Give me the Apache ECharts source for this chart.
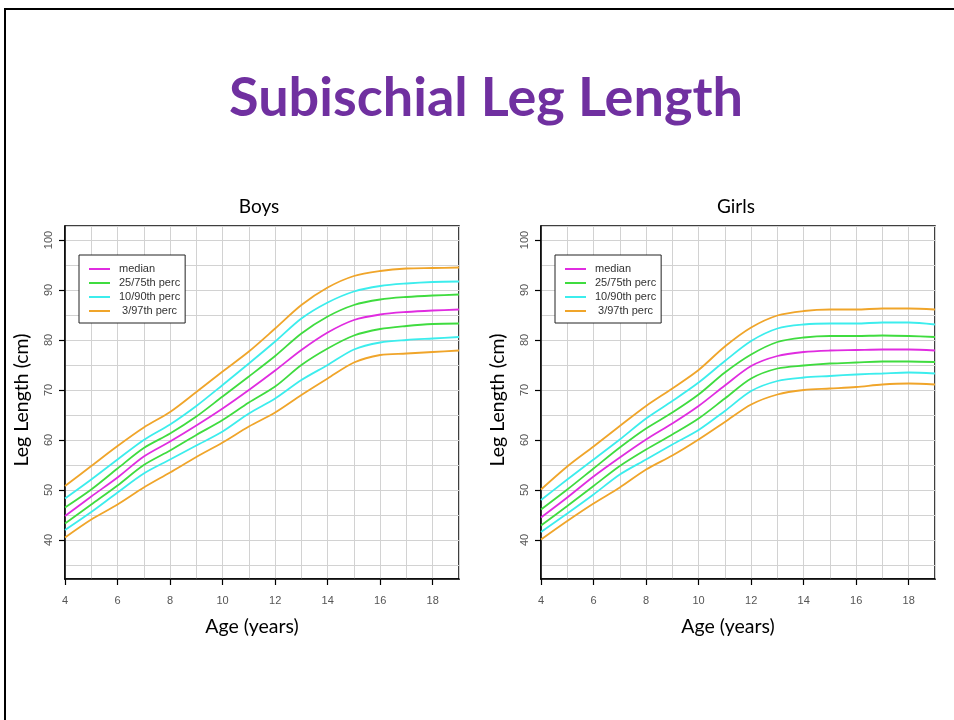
<!DOCTYPE html>
<html>
<head>
<meta charset="utf-8">
<script src="https://cdn.jsdelivr.net/npm/echarts@6/dist/echarts.min.js"></script>
<style>
  html, body { margin: 0; padding: 0; background: #fff; }
  #chart { width: 954px; height: 720px; }
</style>
</head>
<body>
<div id="chart"></div>
<script>
// ---- data ----
const ages = [4, 5, 6, 7, 8, 9, 10, 11, 12, 13, 14, 15, 16, 17, 18, 19];
const xTickLabels = [4, 6, 8, 10, 12, 14, 16, 18];
const yTickLabels = [40, 50, 60, 70, 80, 90, 100];
const legendNames = ['median', '25/75th perc', '10/90th perc', ' 3/97th perc'];

const boysP3  = [40.5, 44.1, 47.1, 50.5, 53.5, 56.6, 59.5, 62.7, 65.5, 69.0, 72.3, 75.5, 77.0, 77.3, 77.6, 77.9];
const boysP10 = [42.0, 45.6, 49.5, 53.3, 56.1, 58.9, 61.7, 65.3, 68.3, 72.0, 75.0, 78.1, 79.5, 80.0, 80.3, 80.6];
const boysP25 = [43.3, 47.1, 50.9, 55.0, 57.9, 61.0, 64.0, 67.5, 70.7, 75.0, 78.3, 80.9, 82.2, 82.8, 83.2, 83.3];
const boysP50 = [44.8, 48.7, 52.5, 56.7, 59.7, 62.9, 66.3, 70.0, 73.9, 78.0, 81.5, 84.0, 85.1, 85.6, 85.9, 86.1];
const boysP75 = [46.5, 50.1, 54.3, 58.4, 61.3, 64.7, 68.7, 72.7, 76.8, 81.3, 84.7, 87.0, 88.1, 88.6, 88.9, 89.1];
const boysP90 = [48.3, 52.1, 56.1, 60.0, 63.1, 66.8, 71.0, 75.3, 79.7, 84.3, 87.5, 89.7, 90.8, 91.3, 91.6, 91.7];
const boysP97 = [50.8, 54.8, 58.8, 62.5, 65.6, 69.6, 73.7, 77.7, 82.3, 87.0, 90.5, 92.8, 93.8, 94.3, 94.4, 94.5];

const girlsP3  = [40.1, 43.8, 47.3, 50.5, 54.1, 56.9, 60.1, 63.6, 67.1, 69.1, 70.0, 70.3, 70.6, 71.1, 71.3, 71.1];
const girlsP10 = [41.6, 45.3, 49.1, 53.1, 56.1, 59.1, 62.0, 65.8, 69.8, 71.8, 72.5, 72.8, 73.1, 73.3, 73.5, 73.3];
const girlsP25 = [42.9, 46.8, 50.8, 54.8, 58.1, 61.1, 64.3, 68.3, 72.3, 74.3, 74.9, 75.3, 75.5, 75.7, 75.7, 75.6];
const girlsP50 = [44.5, 48.5, 52.7, 56.5, 60.1, 63.3, 66.8, 70.9, 74.8, 76.8, 77.6, 77.9, 78.0, 78.1, 78.1, 77.9];
const girlsP75 = [46.1, 50.1, 54.3, 58.5, 62.3, 65.5, 69.1, 73.5, 77.1, 79.6, 80.5, 80.8, 80.8, 80.9, 80.8, 80.6];
const girlsP90 = [48.0, 52.1, 56.1, 60.1, 64.3, 67.8, 71.5, 75.8, 79.8, 82.3, 83.1, 83.3, 83.3, 83.5, 83.5, 83.1];
const girlsP97 = [50.1, 54.7, 58.7, 62.8, 66.8, 70.3, 74.0, 78.7, 82.5, 84.9, 85.8, 86.1, 86.1, 86.3, 86.3, 86.1];

// ---- styling ----
const COLORS = { median: '#E02CE0', q: '#3FDC3F', d: '#3CEDED', p: '#F0A52A' };
const GRID_COLOR = '#d2d2d2';
const LABEL_FONT = 'Liberation Sans, Arial, sans-serif';
const TEXT_FONT = 'Lato, "Open Sans", sans-serif';

const plots = [
  { left: 65,  data: [boysP3, boysP10, boysP25, boysP50, boysP75, boysP90, boysP97] },
  { left: 541, data: [girlsP3, girlsP10, girlsP25, girlsP50, girlsP75, girlsP90, girlsP97] }
];
const PLOT_TOP = 226, PLOT_W = 394, PLOT_H = 353;
const Y_MIN = 32.2, Y_MAX = 102.8;

const grid = [], xAxis = [], yAxis = [], series = [], legend = [];
plots.forEach((p, gi) => {
  grid.push({ left: p.left, top: PLOT_TOP, width: PLOT_W, height: PLOT_H,
              show: true, borderColor: '#000', borderWidth: 1.5, backgroundColor: 'transparent' });
  // axis with ticks & labels
  xAxis.push({ type: 'value', gridIndex: gi, min: 4, max: 19, interval: 1, position: 'bottom',
    axisLine: { show: true, lineStyle: { color: '#000', width: 1.5 } },
    axisTick: { show: true, length: 6, customValues: xTickLabels, lineStyle: { color: '#000', width: 1.2 } },
    axisLabel: { show: true, customValues: xTickLabels, margin: 16, color: '#555', fontSize: 11, fontFamily: LABEL_FONT },
    splitLine: { show: false } });
  // axis for the grid lines
  xAxis.push({ type: 'value', gridIndex: gi, min: 4, max: 19, interval: 1, position: 'top',
    axisLine: { show: false }, axisTick: { show: false }, axisLabel: { show: false },
    splitLine: { show: true, lineStyle: { color: GRID_COLOR, width: 1 } } });
  yAxis.push({ type: 'value', gridIndex: gi, min: Y_MIN, max: Y_MAX, minInterval: 10, maxInterval: 10, position: 'left',
    axisLine: { show: true, lineStyle: { color: '#000', width: 1.5 } },
    axisTick: { show: true, length: 6, customValues: yTickLabels, lineStyle: { color: '#000', width: 1.2 } },
    axisLabel: { show: true, customValues: yTickLabels, rotate: 90, margin: 11, color: '#555', fontSize: 11, fontFamily: LABEL_FONT },
    splitLine: { show: false } });
  yAxis.push({ type: 'value', gridIndex: gi, min: Y_MIN, max: Y_MAX, minInterval: 5, maxInterval: 5, splitNumber: 14, position: 'right',
    axisLine: { show: false }, axisTick: { show: false }, axisLabel: { show: false },
    splitLine: { show: true, lineStyle: { color: GRID_COLOR, width: 1 } } });

  const names = [legendNames[3], legendNames[2], legendNames[1], legendNames[0], legendNames[1], legendNames[2], legendNames[3]];
  const cols = [COLORS.p, COLORS.d, COLORS.q, COLORS.median, COLORS.q, COLORS.d, COLORS.p];
  p.data.forEach((arr, si) => {
    series.push({
      type: 'line', name: names[si], xAxisIndex: gi * 2, yAxisIndex: gi * 2,
      data: ages.map((a, i) => [a, arr[i]]),
      showSymbol: false, symbol: 'none', smooth: 0.3,
      lineStyle: { color: cols[si], width: 1.8 }, itemStyle: { color: cols[si] },
      silent: true, animation: false, z: 3
    });
  });

  legend.push({
    data: legendNames.map(n => ({ name: n, icon: 'rect' })),
    orient: 'vertical', left: p.left + 14, top: 255,
    itemWidth: 21, itemHeight: 2, itemGap: 2,
    padding: [8, 5, 6, 10],
    backgroundColor: '#fff', borderColor: '#222', borderWidth: 1, borderRadius: 0,
    selectedMode: false,
    textStyle: { color: '#333', fontSize: 11, fontFamily: LABEL_FONT, padding: [0, 0, 0, 4], lineHeight: 12, height: 12 }
  });
});

const graphic = [
  // slide frame
  { type: 'line', shape: { x1: 4, y1: 9, x2: 954, y2: 9 }, style: { stroke: '#000', lineWidth: 2 } },
  { type: 'line', shape: { x1: 5, y1: 8, x2: 5, y2: 720 }, style: { stroke: '#000', lineWidth: 2 } },
  // main title
  { type: 'text', x: 486, y: 99, style: { text: 'Subischial Leg Length', fill: '#7030A0',
      font: 'bold 54px ' + TEXT_FONT, align: 'center', verticalAlign: 'middle' } },
  // panel titles
  { type: 'text', x: 259, y: 207, style: { text: 'Boys', fill: '#000', font: '19px ' + TEXT_FONT, align: 'center', verticalAlign: 'middle' } },
  { type: 'text', x: 736, y: 207, style: { text: 'Girls', fill: '#000', font: '19px ' + TEXT_FONT, align: 'center', verticalAlign: 'middle' } },
  // axis titles
  { type: 'text', x: 252, y: 627, style: { text: 'Age (years)', fill: '#000', font: '19.5px ' + TEXT_FONT, align: 'center', verticalAlign: 'middle' } },
  { type: 'text', x: 728, y: 627, style: { text: 'Age (years)', fill: '#000', font: '19.5px ' + TEXT_FONT, align: 'center', verticalAlign: 'middle' } },
  { type: 'text', x: 22, y: 400, rotation: Math.PI / 2, style: { text: 'Leg Length (cm)', fill: '#000', font: '19.5px ' + TEXT_FONT, align: 'center', verticalAlign: 'middle' } },
  { type: 'text', x: 498, y: 400, rotation: Math.PI / 2, style: { text: 'Leg Length (cm)', fill: '#000', font: '19.5px ' + TEXT_FONT, align: 'center', verticalAlign: 'middle' } }
];

const chart = echarts.init(document.getElementById('chart'), null, { renderer: 'canvas' });
chart.setOption({
  backgroundColor: '#fff',
  animation: false,
  grid, xAxis, yAxis, series, legend, graphic
});
</script>
</body>
</html>
